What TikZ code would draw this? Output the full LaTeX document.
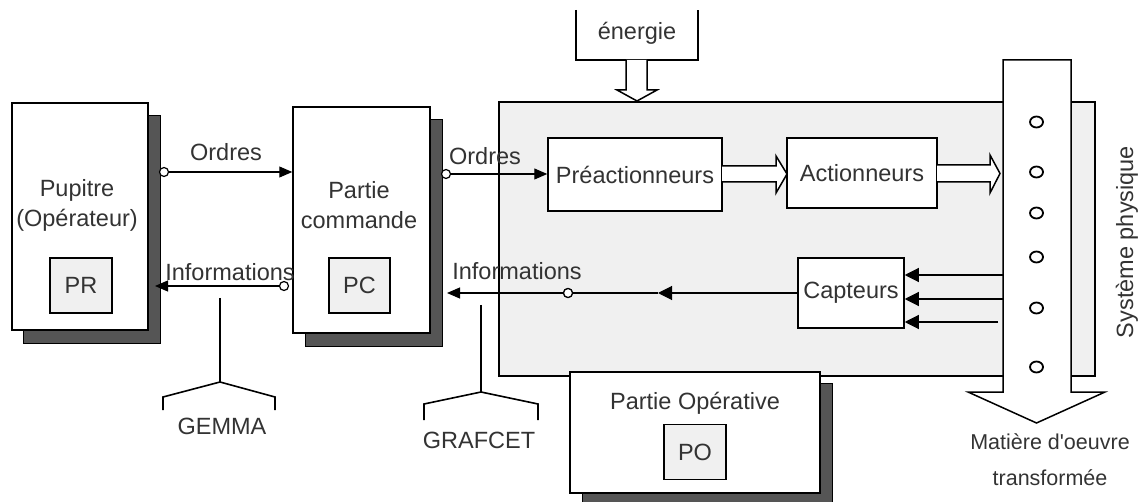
\documentclass[tikz,border=0pt]{standalone}
\usepackage{fontspec}
\setmainfont{Liberation Sans}[Ligatures=TeXOff]
\usetikzlibrary{arrows.meta}
\definecolor{panel}{HTML}{F0F0F0}
\definecolor{shade}{HTML}{555555}
\definecolor{ink}{HTML}{333333}

\begin{document}
\begin{tikzpicture}[x=1pt,y=-1pt,
  lw/.style={line width=1.5pt},
  frame/.style={draw, lw, fill=white, inner sep=0pt},
  shadowbox/.style={draw=black, line width=0.9pt, fill=shade},
  lbl/.style={text=ink, font=\fontsize{23.5}{30}\selectfont, align=center, inner sep=0pt},
  tag/.style={draw, lw, fill=panel, minimum width=62pt, minimum height=55pt, text=ink,
              font=\fontsize{23.5}{30}\selectfont, inner sep=0pt},
  link/.style={line width=1.1pt, -{Triangle[length=13pt,width=11pt]}},
  sense/.style={line width=1.1pt, -{Triangle[length=14pt,width=14pt]}},
  port/.style={circle, draw, line width=1.2pt, fill=white, minimum size=9pt, inner sep=0pt},
  hollow/.style={draw, lw, fill=white, line join=miter},
  bead/.style={draw, line width=1.8pt},
  brace/.style={line width=1.6pt}
]
\useasboundingbox (0,0) rectangle (1142,502);

% ---------- operator desk ----------
\draw[shadowbox] (23,115) rectangle (160,343);
\node[frame, minimum width=136pt, minimum height=227pt] (pup) at (80,216.5) {};
\node[lbl] (puptxt) at (77,205) {Pupitre\\(Opérateur)};
\node[tag] (pr) at (81,285.5) {PR};

% ---------- control part ----------
\draw[shadowbox] (305,119) rectangle (442,346);
\node[frame, minimum width=137pt, minimum height=226pt] (pc) at (361.5,220) {};
\node[lbl] (pctxt) at (359,205) {Partie\\commande};
\node[tag, minimum width=61pt] (pcc) at (359.5,285.5) {PC};

% ---------- physical system ----------
\node[draw, lw, fill=panel, minimum width=596pt, minimum height=274pt, inner sep=0pt] (sys) at (797,239) {};

% energy supply
\draw[lw] (576,10) -- (576,60) -- (698,60) -- (698,10);
\node[lbl] (nrj) at (637,33) {énergie};
\draw[hollow] (626,60) -- (626,90) -- (617,90) -- (637,101) -- (657,90) -- (647,90) -- (647,60);

% pre-actuators, actuators, sensors
\node[frame, minimum width=174pt, minimum height=73pt] (pre) at (635,174.5) {};
\node[lbl] at (pre) {Préactionneurs};
\node[frame, minimum width=150pt, minimum height=70pt] (act) at (862,173) {};
\node[lbl] at (act) {Actionneurs};
\node[frame, minimum width=106pt, minimum height=70pt] (cap) at (851,293) {};
\node[lbl] at (cap) {Capteurs};

\draw[hollow] (722,166) -- (776,166) -- (776,156) -- (787,174) -- (776,193) -- (776,182) -- (722,182);
\draw[hollow] (937,165) -- (990,165) -- (990,155) -- (1000,173.5) -- (990,193) -- (990,182) -- (937,182);

% material flow through the system
\draw[hollow] (1003,60) -- (1071,60) -- (1071,392) -- (1105,392) -- (1036.5,423)
  -- (968,392) -- (1003,392) -- cycle;
\foreach \yy in {122,172,213,257,308,367}
  \draw[bead] (1036.5,\yy) ellipse [x radius=6.5, y radius=5.5];
\node[lbl, rotate=90] (systxt) at (1127,242) {Système physique};
\node[lbl, font=\fontsize{21.5}{36}\selectfont] (mat) at (1050,460) {Matière d'oeuvre\\transformée};

% sensor inputs
\coordinate (s1) at (1003,275);
\coordinate (s2) at (1003,299);
\coordinate (s3) at (998,322);
\foreach \s in {s1,s2,s3}
  \draw[sense] (\s) -- (cap.east |- \s);

% ---------- operative part ----------
\draw[shadowbox] (582,383) rectangle (832,515);
\node[frame, minimum width=250pt, minimum height=121pt] (po) at (695,432.5) {};
\node[lbl] (potxt) at (695,403) {Partie Opérative};
\node[tag] (poc) at (695,452) {PO};

% ---------- signal links ----------
\node[port] (p1) at (164,172) {};
\draw[link] (p1) -- (pc.west |- p1);
\node[lbl] at (226,152) {Ordres};

\node[port] (p2) at (284,286) {};
\coordinate (t2) at (155,286);
\draw[link] (p2) -- (t2);
\node[lbl] at (230,272) {Informations};

\node[port] (p3) at (446,174) {};
\draw[link] (p3) -- (pre.west |- p3);
\node[lbl] at (485,156) {Ordres};

\node[port] (p4) at (568,293) {};
\coordinate (m4) at (658,293);
\coordinate (t4) at (447,293);
\draw[line width=1.1pt] (m4) -- (p4);
\draw[sense] (cap.west) -- (m4);
\draw[link] (p4) -- (t4);
\node[port] at (p4) {};
\node[lbl] at (517,271) {Informations};

% ---------- tools ----------
\draw[brace] (220,298) -- (220,382);
\draw[brace] (163,410) -- (163,397) -- (220,382) -- (275,397) -- (275,410);
\node[lbl] (gemma) at (222,426) {GEMMA};

\draw[brace] (481,305) -- (481,392);
\draw[brace] (424,420) -- (424,404) -- (481,392) -- (538,404) -- (538,420);
\node[lbl] (grafcet) at (479,440) {GRAFCET};
\end{tikzpicture}
\end{document}
